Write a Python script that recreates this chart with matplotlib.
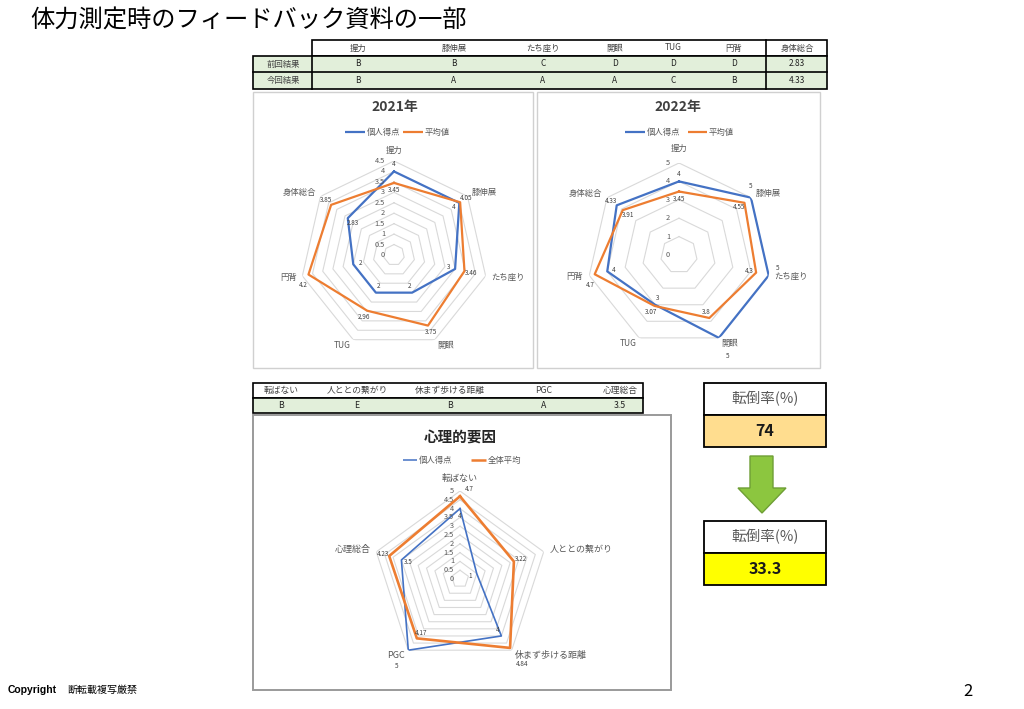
import numpy as np
import matplotlib
matplotlib.use('Agg')
import matplotlib.pyplot as plt
from matplotlib.patches import Rectangle, Polygon
from matplotlib.transforms import offset_copy

plt.rcParams['font.family'] = ['Noto Sans CJK JP', 'DejaVu Sans']

# ---------------- data ----------------
page_title = '体力測定時のフィードバック資料の一部'
phys_categories = ['握力', '膝伸展', 'たち座り', '開眼', 'TUG', '円背', '身体総合']
row_labels = ['前回結果', '今回結果']
grades_prev = ['B', 'B', 'C', 'D', 'D', 'D', '2.83']
grades_curr = ['B', 'A', 'A', 'A', 'C', 'B', '4.33']

ind_2021 = [4, 4, 3, 2, 2, 2, 2.83]
avg_2021 = [3.45, 4.05, 3.46, 3.75, 2.96, 4.2, 3.85]
ind_2022 = [4, 5, 5, 5, 3, 4, 4.33]
avg_2022 = [3.45, 4.55, 4.3, 3.8, 3.07, 4.7, 3.91]

psych_categories = ['転ばない', '人ととの繋がり', '休まず歩ける距離', 'PGC', '心理総合']
psych_grades = ['B', 'E', 'B', 'A', '3.5']
psych_ind = [4, 1, 4, 5, 3.5]
psych_avg = [4.7, 3.22, 4.84, 4.17, 4.23]

fall_label = '転倒率(%)'
fall_before = '74'
fall_after = '33.3'

BLUE = '#4472C4'
ORANGE = '#ED7D31'
GREEN_CELL = '#E2EFDA'
TXT = '#404040'

W, H = 1024, 709
fig = plt.figure(figsize=(W / 100, H / 100), dpi=100)
ax0 = fig.add_axes([0, 0, 1, 1])
ax0.set_xlim(0, W)
ax0.set_ylim(H, 0)
ax0.axis('off')

# title
ax0.text(30, 21, page_title, fontsize=17.5, va='center', ha='left', color='black')

# ---------------- top table ----------------
ax0.add_patch(Rectangle((312, 40), 515, 16, fc='white', ec='black', lw=1.2))
ax0.add_patch(Rectangle((253, 56), 574, 33, fc=GREEN_CELL, ec='black', lw=1.2))
ax0.plot([253, 827], [72, 72], color='black', lw=1.2)
ax0.plot([312, 312], [56, 89], color='black', lw=1.2)
ax0.plot([766, 766], [40, 89], color='black', lw=1.2)
col_x = [358, 454, 543, 615, 673, 734, 797]
for x, c, p, q in zip(col_x, phys_categories, grades_prev, grades_curr):
    ax0.text(x, 48, c, fontsize=6, ha='center', va='center', color=TXT)
    ax0.text(x, 64, p, fontsize=6, ha='center', va='center', color='#222222')
    ax0.text(x, 80.5, q, fontsize=6, ha='center', va='center', color='#222222')
for y, lab in zip([64, 80.5], row_labels):
    ax0.text(283, y, lab, fontsize=6, ha='center', va='center', color=TXT)

# chart frames
ax0.add_patch(Rectangle((253, 92), 280, 276, fc='white', ec='#d0d0d0', lw=1))
ax0.add_patch(Rectangle((537, 92), 283, 276, fc='white', ec='#d0d0d0', lw=1))
ax0.add_patch(Rectangle((253, 415), 418, 275, fc='white', ec='#9a9a9a', lw=1.4))


def legend(y, items):
    for (x0, x1, tx, label, color, lw) in items:
        ax0.plot([x0, x1], [y, y], color=color, lw=lw, solid_capstyle='butt')
        ax0.text(tx, y, label, fontsize=6, ha='left', va='center', color='#595959')


def radar(cx, cy, R, rmax, step, cats, ind, avg, lw_ind, lw_avg, tick_dx,
          cat_fs, cat_pad, top_pad):
    ax = fig.add_axes([(cx - R) / W, (H - cy - R) / H, 2 * R / W, 2 * R / H],
                      projection='polar')
    ax.set_theta_zero_location('N')
    ax.set_theta_direction(-1)
    n = len(cats)
    th = np.linspace(0, 2 * np.pi, n, endpoint=False)
    thc = np.append(th, th[0])
    for r in np.arange(step, rmax + 1e-9, step):
        ax.plot(thc, np.full(n + 1, r), color='#d9d9d9', lw=0.8, zorder=1)
    ax.plot(thc, np.append(ind, ind[0]), color=BLUE, lw=lw_ind, zorder=3)
    ax.plot(thc, np.append(avg, avg[0]), color=ORANGE, lw=lw_avg, zorder=4)
    ax.set_ylim(0, rmax)
    ax.axis('off')
    # radial tick labels
    tr = offset_copy(ax.transData, fig=fig, x=-tick_dx, y=0, units='dots')
    for r in np.arange(0, rmax + 1e-9, step):
        ax.text(0, r, f'{r:g}', transform=tr, fontsize=5.3, ha='right',
                va='center', color='#595959')
    # category labels
    for t, c in zip(th, cats):
        s, co = np.sin(t), np.cos(t)
        ha = 'left' if s > 0.2 else ('right' if s < -0.2 else 'center')
        if co > 0.95:
            va = 'bottom'
            pad = top_pad
        else:
            va = 'center'
            pad = cat_pad
        trc = offset_copy(ax.transData, fig=fig, x=s * pad, y=co * pad, units='dots')
        ax.text(t, rmax, c, transform=trc, fontsize=cat_fs, ha=ha, va=va,
                color='#595959')
    # data labels: larger value labelled outside, smaller inside
    for t, a, b in zip(th, ind, avg):
        s, co = np.sin(t), np.cos(t)
        for v, other in ((a, b), (b, a)):
            outer = v >= other
            if outer and v > rmax * 0.93:
                if co < -0.5:
                    dx, dy = s * 20, co * 20
                elif co > 0.95:
                    dx, dy = 9, 7
                else:
                    dx, dy = -co * 9 + s * 7, s * 9 + co * 7
            else:
                off = 7 if outer else -7
                dx, dy = s * off, co * off
            trd = offset_copy(ax.transData, fig=fig, x=dx, y=dy, units='dots')
            ax.text(t, v, f'{v:g}', transform=trd, fontsize=4.6, ha='center',
                    va='center', color='#404040', zorder=5)
    return ax


# 2021
ax0.text(395, 107, '2021年', fontsize=10, fontweight='bold', ha='center',
         va='center', color='#404040')
legend(132, [(345, 365, 367, '個人得点', BLUE, 1.6), (403, 423, 425, '平均値', ORANGE, 1.6)])
radar(394, 255, 94, 4.5, 0.5, phys_categories, ind_2021, avg_2021, 1.6, 1.6, 9,
      6, 6, 6)

# 2022
ax0.text(678, 107, '2022年', fontsize=10, fontweight='bold', ha='center',
         va='center', color='#404040')
legend(132, [(625, 645, 647, '個人得点', BLUE, 1.6), (688, 707, 709, '平均値', ORANGE, 1.6)])
radar(679, 255, 92, 5, 1, phys_categories, ind_2022, avg_2022, 1.6, 1.6, 9,
      6, 6, 10)

# ---------------- lower table ----------------
ax0.add_patch(Rectangle((253, 383), 390, 15, fc='white', ec='black', lw=1.2))
ax0.add_patch(Rectangle((253, 398), 390, 15, fc=GREEN_CELL, ec='black', lw=1.2))
pcol_x = [281, 357, 450, 544, 620]
for x, c, g in zip(pcol_x, psych_categories, psych_grades):
    ax0.text(x, 390.5, c, fontsize=6.3, ha='center', va='center', color=TXT)
    ax0.text(x, 405.5, g, fontsize=6.3, ha='center', va='center', color='#222222')

# psych radar
ax0.text(460, 437, '心理的要因', fontsize=10.5, fontweight='bold', ha='center',
         va='center', color='#262626')
legend(460, [(403, 417, 419, '個人得点', BLUE, 1.1), (471, 486, 488, '全体平均', ORANGE, 1.8)])
radar(460, 579, 88, 5, 0.5, psych_categories, psych_ind, psych_avg, 1.2, 1.9, 6,
      6.5, 6, 8)

# ---------------- fall-rate boxes ----------------
for (y0, val, fc) in ((383, fall_before, '#FFDD8F'), (521, fall_after, '#FFFF00')):
    ax0.add_patch(Rectangle((704, y0), 122, 32, fc='white', ec='black', lw=1.3))
    ax0.add_patch(Rectangle((704, y0 + 32), 122, 32, fc=fc, ec='black', lw=1.3))
    ax0.text(765, y0 + 16, fall_label, fontsize=10.5, ha='center', va='center',
             color='#595959')
    ax0.text(765, y0 + 48, val, fontsize=11.5, fontweight='bold', ha='center',
             va='center', color='#1a1a1a')

ax0.add_patch(Polygon([(750, 456), (773, 456), (773, 488), (786, 488), (762, 513),
                       (738, 488), (750, 488)], closed=True, fc='#8CC63F',
                      ec='#6E9E35', lw=1))

# footer
ax0.text(8, 690, 'Copyright', fontsize=7.5, fontweight='bold', ha='left',
         va='center', color='black', family=['Liberation Sans', 'DejaVu Sans'])
ax0.text(67, 690, '断転載複写厳禁', fontsize=7.2, ha='left', va='center', color='black')
ax0.text(968, 692, '2', fontsize=12, ha='center', va='center', color='black')

fig.savefig('out.png', dpi=100)
